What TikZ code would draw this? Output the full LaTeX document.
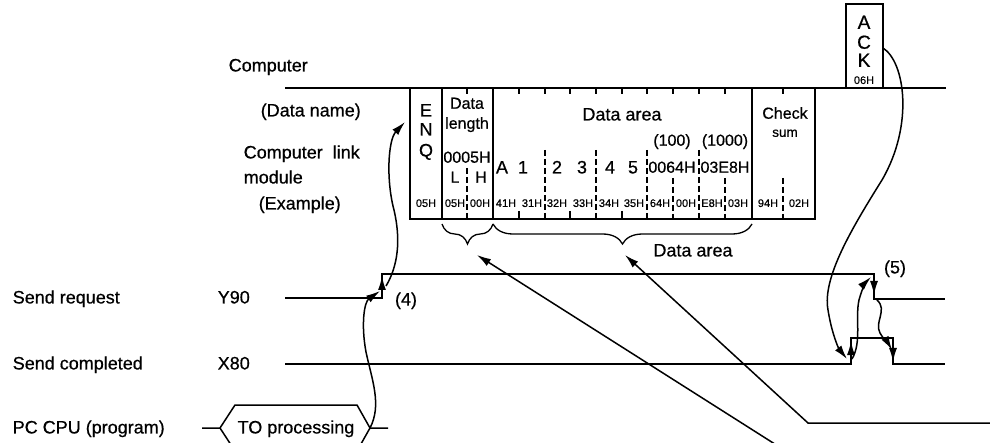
\documentclass[tikz,border=0pt]{standalone}
\usepackage{fontspec}
\setmainfont{Liberation Sans}[FakeBold=0.6]
\usetikzlibrary{arrows.meta,decorations.pathreplacing}
\begin{document}
\begin{tikzpicture}[x=1pt,y=-1pt,line width=1.5pt,
  every node/.style={inner sep=0pt, text depth=0pt},
  big/.style={font=\fontsize{18}{20}\selectfont, text height=12.9pt},
  mid/.style={font=\fontsize{16}{18}\selectfont, text height=11.5pt},
  msm/.style={font=\fontsize{13.5}{15}\selectfont, text height=9.7pt},
  sml/.style={font=\fontsize{11}{12}\selectfont, text height=7.9pt},
  tipa/.style={-{Latex[length=14pt,width=8pt]}},
  sig/.style={line width=1.6pt},
  hair/.style={line width=1.1pt},
  dsh/.style={line width=1.1pt, dash pattern=on 6pt off 3pt},
  brc/.style={decorate, decoration={brace, amplitude=20pt, mirror}, line width=1.3pt}]
\useasboundingbox (0,0) rectangle (990,443);
\clip (0,0) rectangle (990,443);

% ---------- left labels ----------
\node[big, anchor=west] (lcomp) at (228,65) {Computer};
\node[big, anchor=west] (ldname) at (260,110) {(Data name)};
\node[big, anchor=west] (llink) at (243,152) {Computer\ \ link};
\node[big, anchor=west] (lmod) at (243,177) {module};
\node[big, anchor=west] (lex) at (258,203) {(Example)};
\node[big, anchor=west] (lsr) at (12,297) {Send request};
\node[big, anchor=west] (ly90) at (217,297) {Y90};
\node[big, anchor=west] (lsc) at (12,363) {Send completed};
\node[big, anchor=west] (lx80) at (217,363) {X80};
\node[big, anchor=west] (lpc) at (12,427) {PC CPU (program)};

% ---------- computer line and ACK ----------
\coordinate (cl0) at (285,88);
\coordinate (cl1) at (946,88);
\draw (cl0) -- (cl1);
\draw (846,88) -- (846,4) -- (883,4) -- (883,88);
\node[font=\fontsize{19}{20}\selectfont, text height=13.6pt] (ackA) at (864,22) {A};
\node[font=\fontsize{19}{20}\selectfont, text height=13.6pt] (ackC) at (864,42) {C};
\node[font=\fontsize{19}{20}\selectfont, text height=13.6pt] (ackK) at (864,60) {K};
\node[sml] (ack06) at (864,80) {06H};
\coordinate (ackR) at (883,48);

% ---------- data frame ----------
\draw (410,88) -- (410,219) -- (815,219) -- (815,88);
\foreach \x in {442,493,752} \draw (\x,88) -- (\x,219);
\foreach \x in {467,519,545,570,596,622,647,673,699,725,783} \draw[hair] (\x,88) -- (\x,94);
\draw[dsh] (467,168) -- (467,219);
\foreach \x in {545,596,647,699} \draw[dsh] (\x,150) -- (\x,219);
\foreach \x in {673,725,783} \draw[dsh] (\x,178) -- (\x,219);
\foreach \x in {519,570,622} \draw[hair] (\x,211) -- (\x,219);

\node[big] (enqE) at (426,110) {E};
\node[big] (enqN) at (426,129) {N};
\node[big] (enqQ) at (426,150) {Q};
\coordinate (enqL) at (405,122);
\node[mid] (dl1) at (467,103) {Data};
\node[mid] (dl2) at (467,123) {length};
\node[mid] (dl3) at (467,157) {0005H};
\node[mid] (dlL) at (455,177) {L};
\node[mid] (dlH) at (481,177) {H};
\node[big] (dat) at (622,114) {Data area};
\node[mid] (v100) at (672,140) {(100)};
\node[mid] (v1000) at (725,140) {(1000)};
\node[big] (cA) at (502,167) {A};
\node[big] (c1) at (523,167) {1};
\node[big] (c2) at (557,167) {2};
\node[big] (c3) at (582,167) {3};
\node[big] (c4) at (610,167) {4};
\node[big] (c5) at (633,167) {5};
\node[mid] (c64) at (672,167) {0064H};
\node[mid] (c3e8) at (725,167) {03E8H};
\node[mid] (chk) at (785,113) {Check};
\node[msm] (sum) at (785,132) {sum};
\foreach \x/\t/\n in {426/05H/1,455/05H/2,480/00H/3,506/41H/4,532/31H/5,557/32H/6,583/33H/7,609/34H/8,634/35H/9,660/64H/10,686/00H/11,712/E8H/12,738/03H/13,768/94H/14,799/02H/15}
  \node[sml] (b\n) at (\x,203) {\t};

% ---------- braces ----------
\draw[brc] (442,224) -- (493,224);
\draw[brc] (493,224) -- (752,224);
\node[big] (dat2) at (693,250) {Data area};
\coordinate (brA) at (477,255);
\coordinate (brB) at (625,255);
\coordinate (lnA) at (800,460);
\coordinate (lnB0) at (995,423);
\coordinate (lnB1) at (808,423);
\draw[tipa] (lnA) -- (brA);
\draw[tipa] (lnB0) -- (lnB1) -- (brB);

% ---------- waveforms ----------
\coordinate (yr0) at (382,298);
\coordinate (yr1) at (382,274);
\coordinate (yf0) at (874,274);
\coordinate (yf1) at (874,299);
\coordinate (xr0) at (851,364);
\coordinate (xr1) at (851,338);
\coordinate (xf0) at (893,338);
\coordinate (xf1) at (893,364);
\draw[sig] (285,298) -- (yr0) -- (yr1) -- (yf0) -- (yf1) -- (945,299);
\draw[sig] (285,364) -- (xr0) -- (xr1) -- (xf0) -- (xf1) -- (945,364);
\draw[tipa] (382,296) -- (382,276);
\draw[tipa] (874,276) -- (874,295);
\draw[tipa] (851,362) -- (851,341);
\draw[tipa] (893,340) -- (893,362);
\node[big] (n4) at (406,299) {(4)};
\node[big] (n5) at (895,267) {(5)};

% ---------- TO processing ----------
\node[big] (tp) at (296,427) {TO processing};
\coordinate (tpL) at (220,428);
\coordinate (tpR) at (370,428);
\draw (202,428) -- (tpL) -- (235,405) -- (357,405) -- (tpR) -- (388,428);
\draw (tpL) -- (235,451);
\draw (tpR) -- (357,451);

% ---------- sequence curves ----------
\coordinate (cA1) at (380,291);
\draw[tipa] (tpR) .. controls (382,405) and (372,380) .. (366,352)
   .. controls (361,325) and (364,302) .. (cA1);
\coordinate (cB0) at (386,286);
\draw[tipa] (cB0) .. controls (398,266) and (401,240) .. (394,210)
   .. controls (386,180) and (388,140) .. (enqL);
\coordinate (cK1) at (847,359);
\draw[tipa] (ackR) .. controls (905,62) and (914,125) .. (882,180)
   .. controls (852,228) and (822,278) .. (828,310)
   .. controls (832,335) and (839,349) .. (cK1);
\coordinate (cC0) at (852,359);
\coordinate (cC1) at (871,277);
\draw[tipa] (cC0) .. controls (862,342) and (855,318) .. (859,300)
   .. controls (862,289) and (866,282) .. (cC1);
\coordinate (cD0) at (877,300);
\coordinate (cD1) at (892,350);
\draw[tipa] (cD0) .. controls (888,310) and (874,322) .. (880,333)
   .. controls (884,340) and (888,343) .. (cD1);
\end{tikzpicture}
\end{document}
